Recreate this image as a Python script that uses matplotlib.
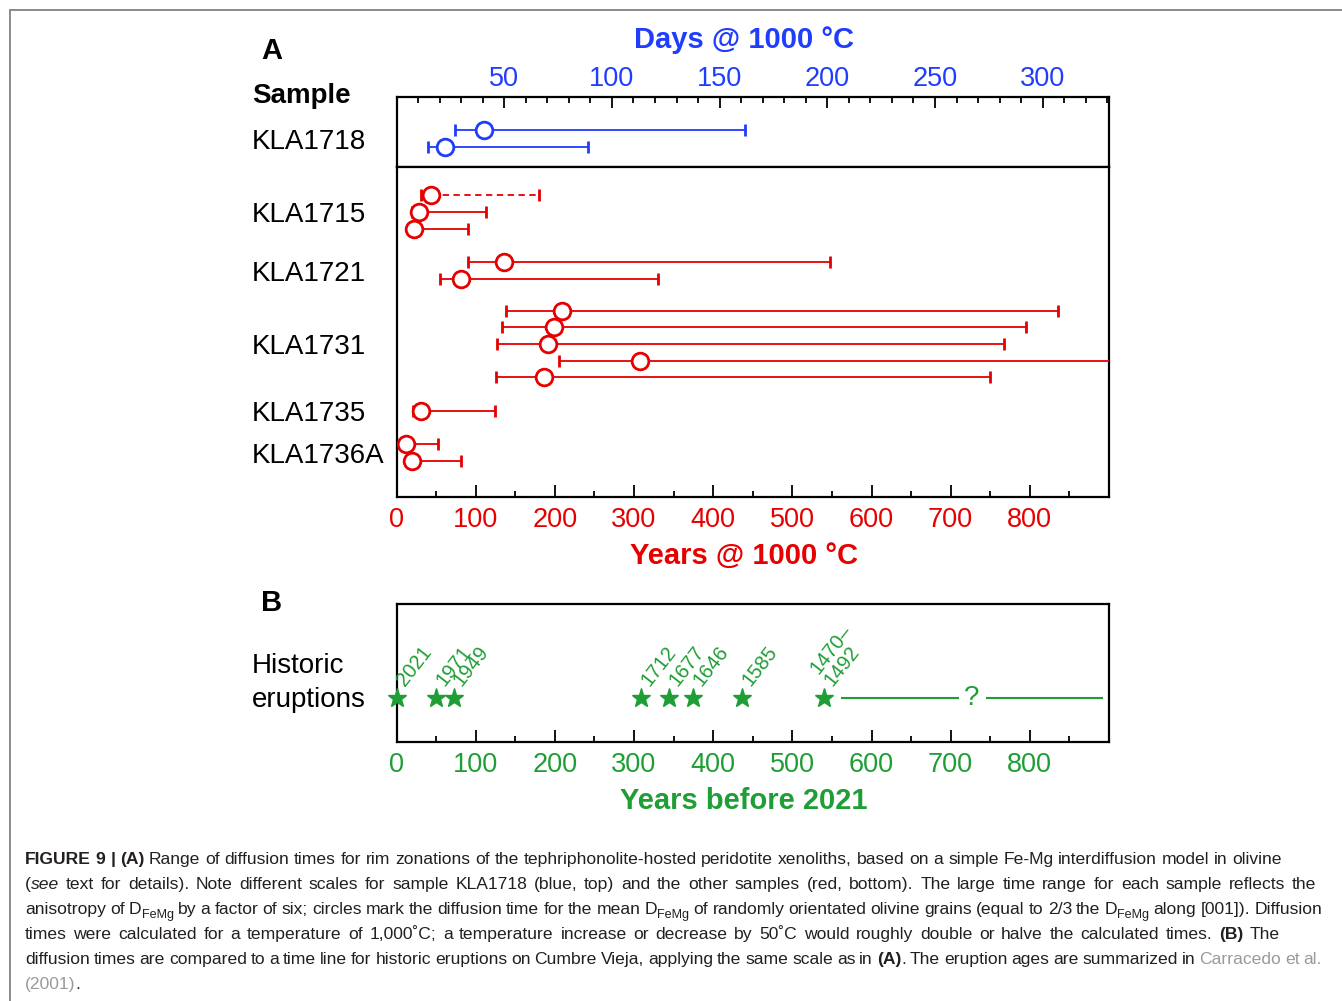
import matplotlib
matplotlib.use('Agg')
import matplotlib.pyplot as plt
import numpy as np
from matplotlib.transforms import blended_transform_factory, IdentityTransform
from matplotlib.lines import Line2D

plt.rcParams['font.family'] = ['Liberation Sans', 'DejaVu Sans']

W, H = 1342, 1001
BLUE = '#1f3cff'
RED = '#e60000'
GREEN = '#1f9e35'
DARK = '#231f20'

# ---------------- data ----------------
# KLA1718, days @ 1000 C
kla1718_mean_days = [40.5, 22.5]
kla1718_min_days = [27, 14.5]
kla1718_max_days = [162, 89]

# other samples, years @ 1000 C (one entry per grain)
red_sample = ['KLA1715'] * 3 + ['KLA1721'] * 2 + ['KLA1731'] * 5 + ['KLA1735'] + ['KLA1736A'] * 2
red_mean = [43.6, 28.5, 22.6, 136, 82, 208.5, 199, 191.8, 307.5, 186.3, 31, 12.5, 20.2]
red_min = [31, 19, 15, 90.5, 55.4, 138.8, 132.8, 126.9, 205, 125.7, 20.7, 8.3, 13.5]
red_max = [180, 113, 90.5, 548, 330, 835.6, 795, 767, 1230, 750, 124, 51.8, 82]
red_dashed = [True] + [False] * 12

sample_order = ['KLA1715', 'KLA1721', 'KLA1731', 'KLA1735', 'KLA1736A']

# historic eruptions
eruption_year = [2021, 1971, 1949, 1712, 1677, 1646, 1585, 1481]
eruption_label = ['2021', '1971', '1949', '1712', '1677', '1646', '1585', '1492']
unknown_start, unknown_end = 562, 892   # years before 2021

blue_ticks = [50, 100, 150, 200, 250, 300]
red_ticks = [0, 100, 200, 300, 400, 500, 600, 700, 800]

# ---------------- layout ----------------
top_rows = [2.0, 3.0]
red_rows = [1.7, 2.7, 3.7, 5.7, 6.7, 8.6, 9.6, 10.6, 11.6, 12.6, 14.6, 16.6, 17.6]

fig = plt.figure(figsize=(W / 100, H / 100), dpi=100)

def fx(px):
    return px / W

def fy(py):
    return 1 - py / H

L, R = 396.5, 1109
axT = fig.add_axes([fx(L), fy(167), fx(R - L), 70 / H])
axA = fig.add_axes([fx(L), fy(497), fx(R - L), 330 / H])
axB = fig.add_axes([fx(L), fy(742), fx(R - L), 138 / H])

for ax in (axT, axA, axB):
    for s in ax.spines.values():
        s.set_linewidth(1.6)
        s.set_color('black')
    ax.set_yticks([])

TICK_SIZE = 19.5

# top panel (blue)
axT.set_xlim(0, 330.8)
axT.set_ylim(4.2, 0)
axT.xaxis.tick_top()
axT.set_xticks(blue_ticks)
axT.set_xticks([v for v in range(10, 331, 10) if v % 50], minor=True)
axT.tick_params(axis='x', which='both', direction='in', top=True, bottom=False,
                labeltop=True, labelbottom=False, width=1.3)
axT.tick_params(axis='x', which='major', length=8, pad=3.5, labelsize=TICK_SIZE, labelcolor=BLUE)
axT.tick_params(axis='x', which='minor', length=4.5)
for m, lo, hi, y in zip(kla1718_mean_days, kla1718_min_days, kla1718_max_days, top_rows):
    axT.errorbar([m], [y], xerr=[[m - lo], [hi - m]], fmt='o', ms=12, mfc='white', mec=BLUE,
                 mew=2, ecolor=BLUE, elinewidth=1.3, capsize=4, capthick=1.3, zorder=3)

# lower panel A (red)
axA.set_xlim(0, 900)
axA.set_ylim(19.76, 0)
axA.set_xticks(red_ticks)
axA.set_xticks(np.arange(50, 900, 100), minor=True)
axA.tick_params(axis='x', which='both', direction='in', width=1.3)
axA.tick_params(axis='x', which='major', length=8.5, pad=7, labelsize=TICK_SIZE, labelcolor=RED)
axA.tick_params(axis='x', which='minor', length=4.5)
for m, lo, hi, y, d in zip(red_mean, red_min, red_max, red_rows, red_dashed):
    c = axA.errorbar([m], [y], xerr=[[m - lo], [hi - m]], fmt='o', ms=12, mfc='white', mec=RED,
                     mew=2, ecolor=RED, elinewidth=1.3, capsize=4, capthick=1.3, zorder=3)
    if d:
        c.lines[2][0].set_linestyle((0, (3.5, 2.5)))

# sample labels
trT = blended_transform_factory(fig.transFigure, axT.transData)
trA = blended_transform_factory(fig.transFigure, axA.transData)
fig.text(fx(252), 2.72, 'KLA1718', transform=trT, fontsize=20, ha='left', va='center')
for s in sample_order:
    ys = [y for y, n in zip(red_rows, red_sample) if n == s]
    fig.text(fx(252), np.mean(ys) + 0.18, s, transform=trA, fontsize=20, ha='left', va='center')

fig.text(fx(261), fy(51), 'A', fontsize=21, fontweight='bold', ha='left', va='center')
fig.text(fx(252), fy(96), 'Sample', fontsize=20, fontweight='bold', ha='left', va='center')
fig.text(fx(744), fy(40), 'Days @ 1000 °C', fontsize=21, fontweight='bold', color=BLUE,
         ha='center', va='center')
fig.text(fx(744), fy(556), 'Years @ 1000 °C', fontsize=21, fontweight='bold', color=RED,
         ha='center', va='center')

# panel B
axB.set_xlim(0, 900)
axB.set_ylim(0, 1)
axB.set_xticks(red_ticks)
axB.set_xticks(np.arange(50, 900, 100), minor=True)
axB.tick_params(axis='x', which='both', direction='in', width=1.3)
axB.tick_params(axis='x', which='major', length=8.5, pad=7, labelsize=TICK_SIZE, labelcolor=GREEN)
axB.tick_params(axis='x', which='minor', length=4.5)
ystar = 0.32
before = [2021 - y for y in eruption_year]
axB.plot(before, [ystar] * len(before), linestyle='none', marker='*', ms=14,
         color=GREEN, clip_on=False, zorder=3)
for b, lab in zip(before, eruption_label):
    axB.annotate(lab, (b, ystar), xytext=(6, 7.5), textcoords='offset points',
                 rotation=52, rotation_mode='anchor', ha='left', va='baseline',
                 color=GREEN, fontsize=14.5)
axB.annotate('1470–', (before[-1], ystar), xytext=(-4, 16.5), textcoords='offset points',
             rotation=52, rotation_mode='anchor', ha='left', va='baseline',
             color=GREEN, fontsize=14.5)
qx = (unknown_start + unknown_end) / 2
axB.hlines(ystar, unknown_start, qx - 16, color=GREEN, lw=1.5)
axB.hlines(ystar, qx + 18, unknown_end, color=GREEN, lw=1.5)
axB.text(qx, ystar, '?', color=GREEN, fontsize=20, ha='center', va='center')

fig.text(fx(261), fy(603), 'B', fontsize=21, fontweight='bold', ha='left', va='center')
fig.text(fx(252), fy(666), 'Historic', fontsize=20, ha='left', va='center')
fig.text(fx(252), fy(700), 'eruptions', fontsize=20, ha='left', va='center')
fig.text(fx(743.5), fy(801), 'Years before 2021', fontsize=21, fontweight='bold', color=GREEN,
         ha='center', va='center')

# outer frame of the figure
fig.add_artist(Line2D([fx(10), 1], [fy(10), fy(10)], transform=fig.transFigure, color='#8a8a8a', lw=1.4))
fig.add_artist(Line2D([fx(10), fx(10)], [fy(10), 0], transform=fig.transFigure, color='#8a8a8a', lw=1.4))

# ---------------- caption ----------------
CAP_FAMILY = ['Liberation Sans Narrow', 'Liberation Sans', 'DejaVu Sans']
CAP_SIZE = 12.6
renderer = fig.canvas.get_renderer()

def style_kw(style):
    kw = dict(fontsize=CAP_SIZE, color=DARK, family=CAP_FAMILY)
    if 'b' in style:
        kw['fontweight'] = 'bold'
    if 'i' in style:
        kw['fontstyle'] = 'italic'
    if 'g' in style:
        kw['color'] = '#9a9a9a'
    if 's' in style:
        kw['fontsize'] = CAP_SIZE * 0.72
    return kw

def place_line(segs, x0, ybase, xend=None):
    words = [[]]
    for text, style in segs:
        parts = text.split(' ')
        for k, p in enumerate(parts):
            if k > 0:
                words.append([])
            if p:
                words[-1].append((p, style))
    words = [w for w in words if w]
    objs = []
    widths = []
    for w in words:
        wo = []
        tw = 0
        for text, style in w:
            t = fig.text(0, 0, text, transform=IdentityTransform(), ha='left', va='baseline',
                         **style_kw(style))
            bw = t.get_window_extent(renderer).width
            wo.append((t, bw, style))
            tw += bw
        objs.append(wo)
        widths.append(tw)
    if xend is not None and len(words) > 1:
        gap = (xend - x0 - sum(widths)) / (len(words) - 1)
    else:
        sp = fig.text(0, 0, 'a a', transform=IdentityTransform(), **style_kw('n'))
        sp2 = fig.text(0, 0, 'aa', transform=IdentityTransform(), **style_kw('n'))
        gap = sp.get_window_extent(renderer).width - sp2.get_window_extent(renderer).width
        sp.remove(); sp2.remove()
    x = x0
    yd = H - ybase
    for wo in objs:
        for t, bw, style in wo:
            t.set_position((x, yd - (4 if 's' in style else 0)))
            x += bw
        x += gap

D = [('D', 'n'), ('FeMg', 's')]
caption = [
    ([('FIGURE 9 | (A)', 'b'), (' Range of diffusion times for rim zonations of the tephriphonolite-hosted '
      'peridotite xenoliths, based on a simple Fe-Mg interdiffusion model in olivine', 'n')], 1282),
    ([('(', 'n'), ('see', 'i'), (' text for details). Note different scales for sample KLA1718 (blue, top) '
      'and the other samples (red, bottom). The large time range for each sample reflects the', 'n')], 1316),
    ([('anisotropy of ', 'n')] + D + [(' by a factor of six; circles mark the diffusion time for the mean ', 'n')]
     + D + [(' of randomly orientated olivine grains (equal to 2/3 the ', 'n')] + D
     + [(' along [001]). Diffusion', 'n')], 1322),
    ([('times were calculated for a temperature of 1,000˚C; a temperature increase or decrease by 50˚C '
       'would roughly double or halve the calculated times. ', 'n'), ('(B)', 'b'), (' The', 'n')], 1280),
    ([('diffusion times are compared to a time line for historic eruptions on Cumbre Vieja, applying the '
       'same scale as in ', 'n'), ('(A)', 'b'), ('. The eruption ages are summarized in ', 'n'),
      ('Carracedo et al.', 'g')], 1322),
    ([('(2001)', 'g'), ('.', 'n')], None),
]
for i, (segs, xend) in enumerate(caption):
    place_line(segs, 25, 864 + 25 * i, xend)

fig.savefig('out.png', dpi=100)
